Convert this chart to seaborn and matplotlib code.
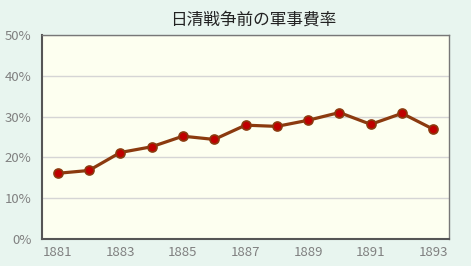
import matplotlib
matplotlib.use("Agg")
import matplotlib.pyplot as plt
import seaborn as sns
import pandas as pd
from matplotlib.ticker import FuncFormatter, MultipleLocator

years = [1881, 1882, 1883, 1884, 1885, 1886, 1887, 1888, 1889, 1890, 1891, 1892, 1893]
rates = [16.1, 16.8, 21.2, 22.6, 25.2, 24.4, 27.9, 27.6, 29.1, 31.0, 28.1, 30.8, 26.9]
title = "日清戦争前の軍事費率"
xticks = [1881, 1883, 1885, 1887, 1889, 1891, 1893]

df = pd.DataFrame({"year": years, "rate": rates})

sns.set_theme(style="white")
plt.rcParams['font.family'] = ['Noto Sans CJK JP', 'DejaVu Sans']

fig = plt.figure(figsize=(4.71, 2.66), dpi=100, facecolor="#E8F5EF")
ax = fig.add_axes([42/471, 1-239/266, (449-42)/471, (239-35)/266])
ax.set_facecolor("#FDFFF0")

sns.lineplot(data=df, x="year", y="rate", ax=ax, color="#8B3A0F", linewidth=2.3,
             marker="o", markersize=6.5, markerfacecolor="#C00000",
             markeredgecolor="#8B3A0F", markeredgewidth=1.2, zorder=3)

ax.set_xlim(1880.5, 1893.5)
ax.set_ylim(0, 50)
ax.yaxis.set_major_locator(MultipleLocator(10))
ax.yaxis.set_major_formatter(FuncFormatter(lambda v, p: f"{int(v)}%"))
ax.set_xticks(xticks)
ax.set_xticklabels([str(x) for x in xticks])
ax.grid(axis="y", color="#D5D5D5", linewidth=1)
ax.set_axisbelow(True)
ax.set_xlabel("")
ax.set_ylabel("")
ax.tick_params(axis="both", colors="#808080", labelsize=9.5, length=0)
ax.tick_params(axis="y", pad=7.5)
ax.tick_params(axis="x", pad=5)
for s in ["left", "bottom"]:
    ax.spines[s].set_color("#555555")
    ax.spines[s].set_linewidth(1.5)
for s in ["top", "right"]:
    ax.spines[s].set_color("#777777")
    ax.spines[s].set_linewidth(1)

fig.text(253/471, 1-20/266, title, ha="center", va="center", fontsize=12, color="#222222")

fig.savefig("out.png", dpi=100, facecolor=fig.get_facecolor())
